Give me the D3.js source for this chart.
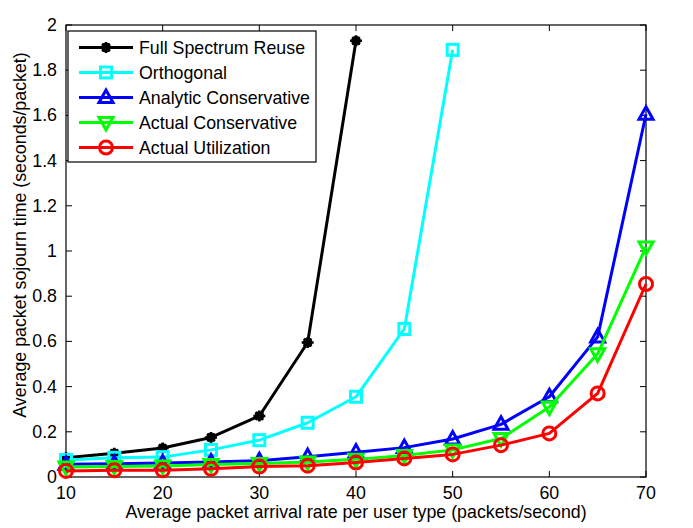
<!DOCTYPE html>
<html><head><meta charset="utf-8">
<script src="https://cdn.jsdelivr.net/npm/d3@7"></script>
<style>html,body{margin:0;padding:0;background:#fff;}svg{display:block;font-family:Arial,"Liberation Sans",sans-serif;}</style>
</head><body>
<svg id="chart" width="693" height="528"></svg>
<script>
const xFull = [10,15,20,25,30,35,40,45,50,55,60,65,70];
const seriesNames = ["Full Spectrum Reuse","Orthogonal","Analytic Conservative","Actual Conservative","Actual Utilization"];
const fullSpectrum = [0.085,0.105,0.128,0.175,0.27,0.595,1.93];
const orthogonal = [0.075,0.085,0.088,0.12,0.163,0.24,0.355,0.655,1.89];
const analyticCons = [0.056,0.059,0.062,0.066,0.072,0.09,0.11,0.13,0.168,0.233,0.355,0.62,1.605];
const actualCons = [0.044,0.047,0.049,0.055,0.06,0.066,0.078,0.095,0.12,0.17,0.31,0.545,1.018];
const actualUtil = [0.027,0.03,0.03,0.036,0.046,0.05,0.064,0.082,0.1,0.141,0.193,0.37,0.854];
const xTicks = [10,20,30,40,50,60,70];
const yTicks = [0,0.2,0.4,0.6,0.8,1,1.2,1.4,1.6,1.8,2];
const colors = ["#000000","#00ffff","#0000ff","#00ff00","#ff0000"];
const markers = ["star","square","triUp","triDown","circle"];
const xLabel = "Average packet arrival rate per user type (packets/second)";
const yLabel = "Average packet sojourn time (seconds/packet)";

const svg = d3.select("#chart");
const L=66, R=646, T=25, B=477;
const FS = 17.8;
const x = d3.scaleLinear().domain([10,70]).range([L,R]);
const y = d3.scaleLinear().domain([0,2]).range([B,T]);
const allSeries = [fullSpectrum, orthogonal, analyticCons, actualCons, actualUtil];

const tl = 6;
const g = svg.append("g");
xTicks.forEach(t=>{
  g.append("line").attr("x1",x(t)).attr("x2",x(t)).attr("y1",B).attr("y2",B-tl).attr("stroke","#000");
  g.append("line").attr("x1",x(t)).attr("x2",x(t)).attr("y1",T).attr("y2",T+tl).attr("stroke","#000");
  g.append("text").attr("x",x(t)).attr("y",B+22).attr("text-anchor","middle").attr("font-size",FS).text(t);
});
yTicks.forEach(t=>{
  g.append("line").attr("x1",L).attr("x2",L+tl).attr("y1",y(t)).attr("y2",y(t)).attr("stroke","#000");
  g.append("line").attr("x1",R).attr("x2",R-tl).attr("y1",y(t)).attr("y2",y(t)).attr("stroke","#000");
  g.append("text").attr("x",L-9).attr("y",y(t)+6).attr("text-anchor","end").attr("font-size",FS).text(d3.format("~g")(t));
});
svg.append("rect").attr("x",L).attr("y",T).attr("width",R-L).attr("height",B-T).attr("fill","none").attr("stroke","#000").attr("stroke-width",1.2);

svg.append("text").attr("x",(L+R)/2).attr("y",518).attr("text-anchor","middle").attr("font-size",FS).text(xLabel);
svg.append("text").attr("transform",`translate(26,${(T+B)/2-16}) rotate(-90)`).attr("text-anchor","middle").attr("font-size",FS).text(yLabel);

function drawMarker(sel, type, cx, cy, color){
  const s = sel.append("g").attr("transform",`translate(${cx},${cy})`);
  if(type==="circle"){
    s.append("circle").attr("r",6.5).attr("fill","none").attr("stroke",color).attr("stroke-width",3);
  } else if(type==="square"){
    s.append("rect").attr("x",-5.5).attr("y",-5.5).attr("width",11).attr("height",11).attr("fill","none").attr("stroke",color).attr("stroke-width",3);
  } else if(type==="triUp"){
    s.append("path").attr("d","M0,-7.5L7,5L-7,5Z").attr("fill","none").attr("stroke",color).attr("stroke-width",3);
  } else if(type==="triDown"){
    s.append("path").attr("d","M0,7.5L7,-5L-7,-5Z").attr("fill","none").attr("stroke",color).attr("stroke-width",3);
  } else if(type==="star"){
    s.append("path").attr("d","M-6,0L6,0M0,-5.5L0,5.5M-3.8,-3.8L3.8,3.8M-3.8,3.8L3.8,-3.8").attr("stroke",color).attr("stroke-width",2.5);
    s.append("circle").attr("r",4.8).attr("fill",color);
  }
}

const line = d3.line().x((d,i)=>x(xFull[i])).y(d=>y(d));
const plot = svg.append("g");
allSeries.forEach((data,k)=>{
  plot.append("path").datum(data).attr("d",line).attr("fill","none").attr("stroke",colors[k]).attr("stroke-width",3).attr("stroke-linejoin","round");
  data.forEach((v,i)=>drawMarker(plot, markers[k], x(xFull[i]), y(v), colors[k]));
});

const lg = svg.append("g");
lg.append("rect").attr("x",68).attr("y",31).attr("width",248).attr("height",131).attr("fill","#fff").attr("stroke","#000").attr("stroke-width",1.2);
seriesNames.forEach((n,k)=>{
  const ly = 47.5 + k*25;
  lg.append("line").attr("x1",79).attr("x2",133).attr("y1",ly).attr("y2",ly).attr("stroke",colors[k]).attr("stroke-width",3);
  drawMarker(lg, markers[k], 106, ly, colors[k]);
  lg.append("text").attr("x",139).attr("y",ly+6).attr("font-size",FS).text(n);
});
</script>
</body></html>
